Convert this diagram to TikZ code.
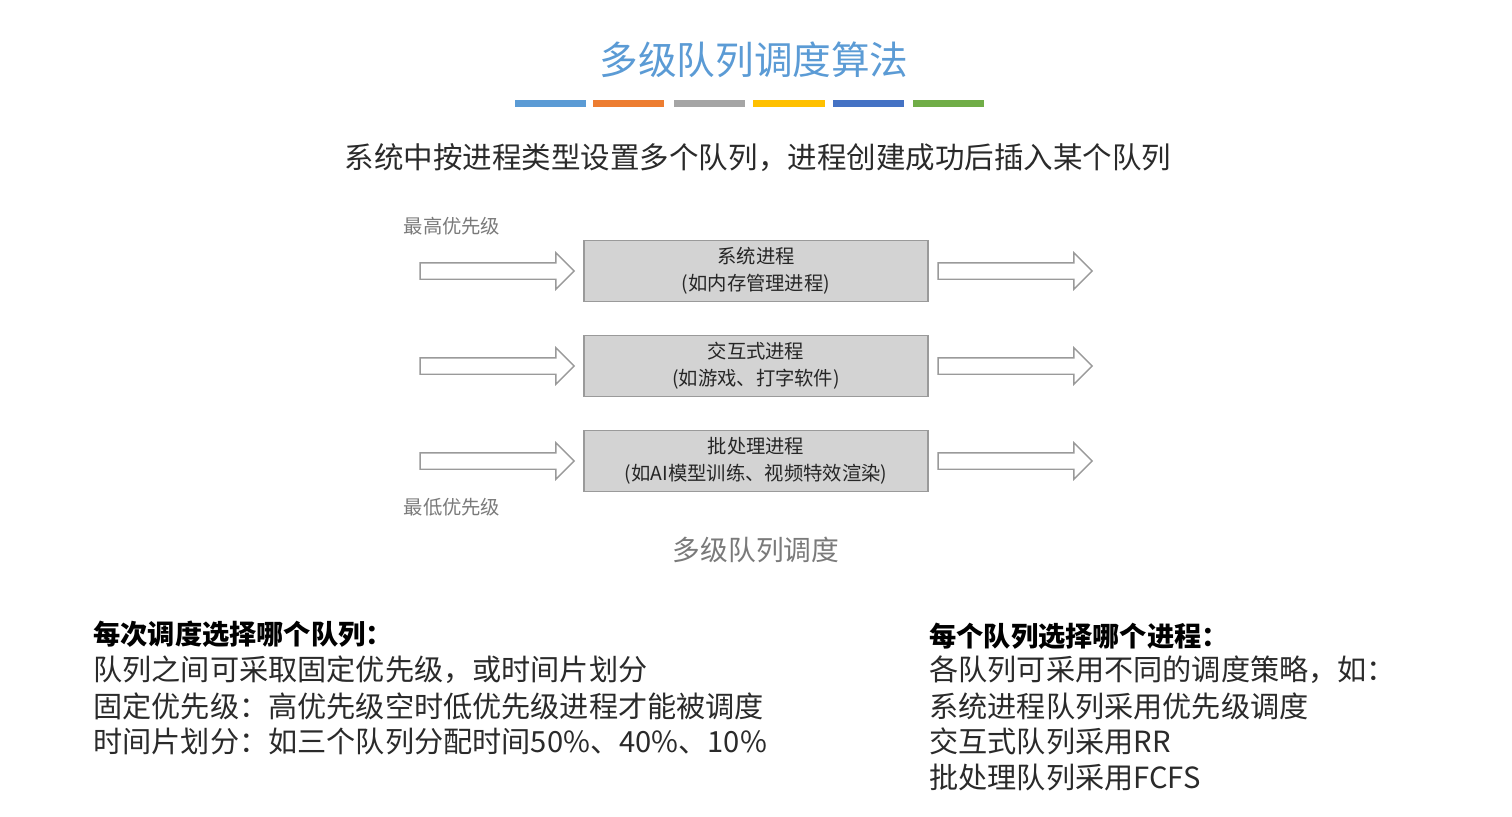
\documentclass[tikz,border=0pt]{standalone}
\usepackage{fontspec}
\setmainfont{Noto Sans CJK SC}
\usepackage{xcolor}
\usepackage{tikz}
\usetikzlibrary{shapes.arrows}

\definecolor{titleblue}{HTML}{5B9BD5}
\definecolor{barorange}{HTML}{ED7D31}
\definecolor{bargray}{HTML}{A5A5A5}
\definecolor{bargold}{HTML}{FFC000}
\definecolor{bardblue}{HTML}{4472C4}
\definecolor{bargreen}{HTML}{70AD47}
\definecolor{boxfill}{HTML}{D3D3D3}
\definecolor{boxline}{HTML}{9A9A9A}
\definecolor{labelgray}{HTML}{7A7A7A}
\definecolor{bodytext}{HTML}{2A2A2A}

\begin{document}
\begin{tikzpicture}[x=0.02cm,y=-0.02cm,
    queuebox/.style={draw=boxline,fill=boxfill,line width=0.8pt,minimum width=6.88cm,minimum height=1.22cm,
        align=center,font=\fontsize{11}{15.3}\selectfont,text=black!85},
    flowarrow/.style={single arrow,draw=boxline,fill=white,line width=0.8pt,minimum height=3.08cm,
        inner xsep=0pt,inner ysep=0.15cm,single arrow head extend=0.2cm},
    prio/.style={font=\fontsize{11}{13}\selectfont,text=labelgray},
    bodyline/.style={anchor=west,inner sep=0pt,font=\fontsize{16.6}{20}\selectfont,text=bodytext},
    headline/.style={anchor=west,inner sep=0pt,font=\fontsize{15.5}{18}\selectfont\bfseries,text=black}]
  \useasboundingbox (0,0) rectangle (1512,816);
  \fill[white] (0,0) rectangle (1512,816);

  % title and colour bars
  \node[font=\fontsize{22}{26}\selectfont,text=titleblue] (title) at (754,60) {多级队列调度算法};
  \fill[titleblue] (515,100) rectangle (586,107);
  \fill[barorange] (593,100) rectangle (664,107);
  \fill[bargray] (674,100) rectangle (745,107);
  \fill[bargold] (753,100) rectangle (825,107);
  \fill[bardblue] (833,100) rectangle (904,107);
  \fill[bargreen] (913,100) rectangle (984,107);

  \node[font=\fontsize{16.8}{20}\selectfont,text=bodytext] (intro) at (758,158)
    {系统中按进程类型设置多个队列，进程创建成功后插入某个队列};

  % the three queues
  \node[prio] (high) at (452,226) {最高优先级};
  \node[prio] (low) at (452,507) {最低优先级};

  \node[queuebox] (sysq) at (756,271) {系统进程\\(如内存管理进程)};
  \node[queuebox] (intq) at (756,366) {交互式进程\\(如游戏、打字软件)};
  \node[queuebox] (batq) at (756,461) {批处理进程\\(如AI模型训练、视频特效渲染)};

  \node[flowarrow] (sysin) at (493,271) {};
  \node[flowarrow] (intin) at (493,366) {};
  \node[flowarrow] (batin) at (493,461) {};
  \node[flowarrow] (sysout) at (1011,271) {};
  \node[flowarrow] (intout) at (1011,366) {};
  \node[flowarrow] (batout) at (1011,461) {};

  \node[font=\fontsize{15.8}{18}\selectfont,text=labelgray] (caption) at (756,550) {多级队列调度};

  % left text block
  \node[headline] (lefthead) at (93,634) {每次调度选择哪个队列：};
  \node[bodyline] (left1) at (93,670) {队列之间可采取固定优先级，或时间片划分};
  \node[bodyline] (left2) at (93,706) {固定优先级：高优先级空时低优先级进程才能被调度};
  \node[bodyline] (left3) at (93,741) {时间片划分：如三个队列分配时间50\%、40\%、10\%};

  % right text block
  \node[headline] (righthead) at (929,636) {每个队列选择哪个进程：};
  \node[bodyline] (right1) at (929,670) {各队列可采用不同的调度策略，如：};
  \node[bodyline] (right2) at (929,706) {系统进程队列采用优先级调度};
  \node[bodyline] (right3) at (929,741) {交互式队列采用RR};
  \node[bodyline] (right4) at (929,777) {批处理队列采用FCFS};
\end{tikzpicture}
\end{document}
